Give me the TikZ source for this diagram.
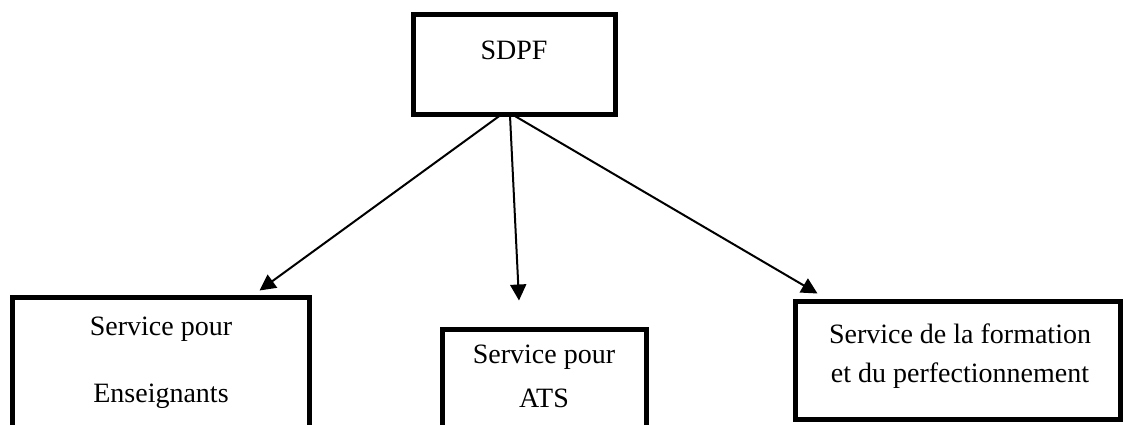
\documentclass[tikz,border=0pt]{standalone}
\usepackage{fontspec}
\setmainfont{Liberation Serif}
\usetikzlibrary{arrows.meta}
\begin{document}
\begin{tikzpicture}[x=1pt,y=-1pt,
  box/.style={draw=black,line width=5pt,fill=white,inner sep=0pt},
  lbl/.style={anchor=base,inner sep=0pt,font=\fontsize{28}{34}\selectfont},
  arr/.style={line width=2pt,-{Triangle[length=16pt,width=16pt]}}]
\useasboundingbox (0,0) rectangle (1125,425);
\begin{scope}
\clip (0,0) rectangle (1125,425);
% boxes
\node[box,minimum width=202pt,minimum height=100pt] (sdpf) at (514.5,64.5) {};
\node[box,minimum width=297pt,minimum height=142.5pt] (ens) at (161,368.75) {};
\node[box,minimum width=204pt,minimum height=110.5pt] (ats) at (544.5,384.75) {};
\node[box,minimum width=325pt,minimum height=118pt] (form) at (958,360.5) {};
\end{scope}
% labels
\node[lbl] (t0) at (514,60) {SDPF};
\node[lbl] (t1a) at (161,335) {Service pour};
\node[lbl] (t1b) at (161,402) {Enseignants};
\node[lbl] (t2a) at (544,363) {Service pour};
\node[lbl] (t2b) at (544,407) {ATS};
\node[lbl] (t3a) at (960,343) {Service de la formation};
\node[lbl] (t3b) at (960,382) {et du perfectionnement};
% connector ends
\coordinate (s1) at ([xshift=-14.5pt,yshift=1.5pt]sdpf.south);
\coordinate (s2) at ([xshift=-4.5pt,yshift=1.5pt]sdpf.south);
\coordinate (s3) at ([xshift=-0.5pt,yshift=1.5pt]sdpf.south);
\coordinate (e1) at ([xshift=249.5pt,yshift=4.5pt]ens.north west);
\coordinate (e2) at ([xshift=-25.5pt,yshift=26.5pt]ats.north);
\coordinate (e3) at ([xshift=24.5pt,yshift=5.5pt]form.north west);
\draw[arr] (s1) -- (e1);
\draw[arr] (s2) -- (e2);
\draw[arr] (s3) -- (e3);
\end{tikzpicture}
\end{document}
